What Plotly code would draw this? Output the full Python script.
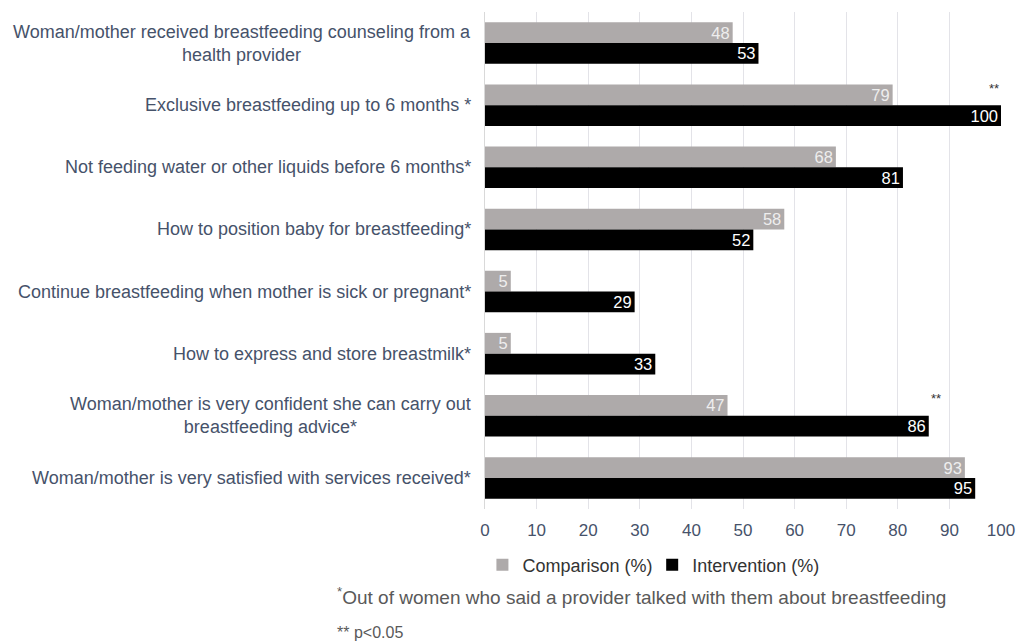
import plotly.graph_objects as go

categories = [
    "Woman/mother received breastfeeding counseling from a<br>health provider",
    "Exclusive breastfeeding up to 6 months *",
    "Not feeding water or other liquids before 6 months*",
    "How to position baby for breastfeeding*",
    "Continue breastfeeding when mother is sick or pregnant*",
    "How to express and store breastmilk*",
    "Woman/mother is very confident she can carry out<br>breastfeeding advice*",
    "Woman/mother is very satisfied with services received*",
]
comparison = [48, 79, 68, 58, 5, 5, 47, 93]
intervention = [53, 100, 81, 52, 29, 33, 86, 95]
significant = [False, True, False, False, False, False, True, False]
x_ticks = [0, 10, 20, 30, 40, 50, 60, 70, 80, 90, 100]

FONT = "Liberation Sans, Arial, sans-serif"
LABEL_COLOR = "#46526A"

fig = go.Figure()
fig.add_trace(go.Bar(
    y=categories, x=comparison, orientation="h", name="Comparison (%)",
    marker=dict(color="#AEAAAA", line=dict(width=0)),
    text=[str(v) for v in comparison], textposition="inside",
    insidetextanchor="end", textangle=0, constraintext="none",
    insidetextfont=dict(color="#EEEEEE", size=16.5, family=FONT),
    legend="legend",
))
fig.add_trace(go.Bar(
    y=categories, x=intervention, orientation="h", name="Intervention (%)",
    marker=dict(color="#000000", line=dict(width=0)),
    text=[str(v) for v in intervention], textposition="inside",
    insidetextanchor="end", textangle=0, constraintext="none",
    insidetextfont=dict(color="#FFFFFF", size=16.5, family=FONT),
    legend="legend2",
))

annotations = []
for cat in categories:
    annotations.append(dict(
        x=0, xref="paper", y=cat, yref="y", text=cat, showarrow=False,
        xanchor="right", yanchor="middle", align="center", xshift=-12,
        font=dict(size=18, color=LABEL_COLOR, family=FONT),
    ))
star_shift = [0, 0, 0, 0, 0, 0, 14, 0]
for i, (cat, val, sig) in enumerate(zip(categories, intervention, significant)):
    if sig:
        annotations.append(dict(
            x=val, y=cat, xref="x", yref="y", text="**", showarrow=False,
            xanchor="right", yanchor="middle", yshift=17, xshift=star_shift[i],
            font=dict(size=13, color="#333333", family=FONT),
        ))
annotations.append(dict(
    x=-0.291, y=-0.175, xref="paper", yref="paper", xanchor="left", yanchor="middle",
    showarrow=False,
    text="<sup>*</sup>Out of women who said a provider talked with them about breastfeeding",
    font=dict(size=19, color="#595959", family=FONT),
))
annotations.append(dict(
    x=-0.291, y=-0.2475, xref="paper", yref="paper", xanchor="left", yanchor="middle",
    showarrow=False, text="** p<0.05",
    font=dict(size=16, color="#595959", family=FONT),
))

legend_style = dict(
    orientation="h", y=-0.113, xanchor="left", yanchor="middle",
    font=dict(size=18, color="#333333", family=FONT),
    itemwidth=30, bgcolor="rgba(0,0,0,0)",
)

# page body has an 8px margin, so the figure is sized/offset to compensate
fig.update_layout(
    width=1025, height=634,
    margin=dict(l=477, r=32, t=4, b=133),
    paper_bgcolor="white", plot_bgcolor="white",
    barmode="group", bargap=0.33, bargroupgap=0,
    font=dict(family=FONT, color=LABEL_COLOR),
    showlegend=True,
    legend=dict(x=-0.005, **legend_style),
    legend2=dict(x=0.324, **legend_style),
    xaxis=dict(
        range=[0, 100], tickvals=x_ticks, showgrid=True, gridcolor="#E3E3E8",
        gridwidth=1, zeroline=False, showline=False,
        tickfont=dict(size=17, color=LABEL_COLOR, family=FONT),
        ticks="", ticklabelstandoff=9,
    ),
    yaxis=dict(
        autorange="reversed", showticklabels=False, showgrid=False,
        showline=True, linecolor="#D9D9D9", linewidth=1, ticks="",
    ),
    annotations=annotations,
)

fig.write_html("out.html")
